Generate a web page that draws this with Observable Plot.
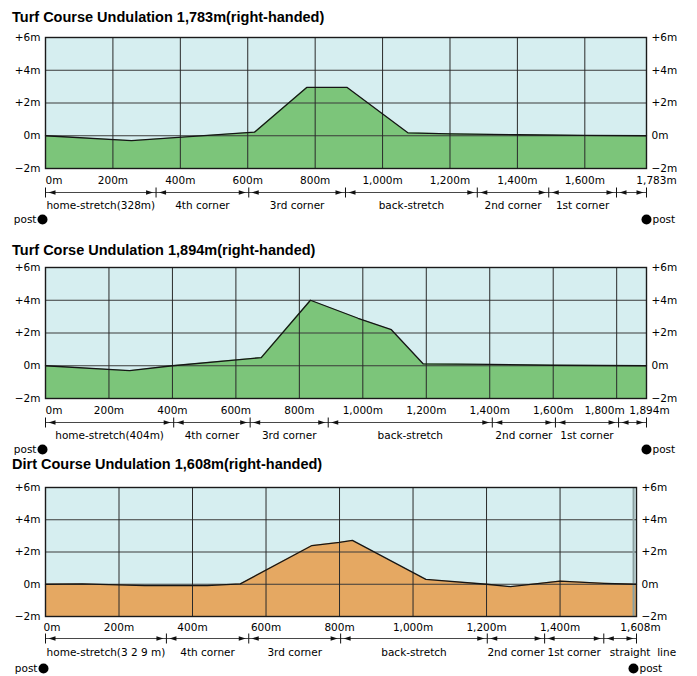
<!DOCTYPE html>
<html><head><meta charset="utf-8">
<script src="https://cdn.jsdelivr.net/npm/d3@7"></script>
<script src="https://cdn.jsdelivr.net/npm/@observablehq/plot@0.6"></script>
<style>
body{margin:0;background:#fff;}
#wrap{position:relative;width:697px;height:676px;font-family:"Liberation Sans",Arial,Helvetica,sans-serif;overflow:hidden;}
.panel{position:absolute;left:0;}
.title{position:absolute;left:12px;font-weight:bold;font-size:14.5px;line-height:18px;color:#000;white-space:nowrap;}
</style></head><body><div id="wrap"></div>
<script>
// ---------- data ----------
const turf1Title = "Turf Course Undulation 1,783m(right-handed)";
const turf1Distance = [0, 255, 620, 775, 895, 1075, 1200, 1400, 1600, 1783];
const turf1Elevation = [0, -0.3, 0.22, 2.95, 2.95, 0.18, 0.12, 0.06, 0.02, 0];
const turf1TickValues = [0, 200, 400, 600, 800, 1000, 1200, 1400, 1600, 1783];
const turf1TickLabels = ["0m", "200m", "400m", "600m", "800m", "1,000m", "1,200m", "1,400m", "1,600m", "1,783m"];
const turf1Grid = [200, 400, 600, 800, 1000, 1200, 1400, 1600];
const turf1Sections = ["home-stretch(328m)", "4th corner", "3rd corner", "back-stretch", "2nd corner", "1st corner", ""];
const turf1Bounds = [0, 328, 603, 890, 1281, 1493, 1694, 1783];

const turf2Title = "Turf Corse Undulation 1,894m(right-handed)";
const turf2Distance = [0, 265, 400, 680, 835, 985, 1090, 1190, 1400, 1600, 1894];
const turf2Elevation = [0, -0.3, 0, 0.5, 4.0, 2.9, 2.2, 0.12, 0.08, 0.03, 0];
const turf2TickValues = [0, 200, 400, 600, 800, 1000, 1200, 1400, 1600, 1800, 1894];
const turf2TickLabels = ["0m", "200m", "400m", "600m", "800m", "1,000m", "1,200m", "1,400m", "1,600m", "1,800m", "1,894m"];
const turf2Grid = [200, 400, 600, 800, 1000, 1200, 1400, 1600, 1800];
const turf2Sections = ["home-stretch(404m)", "4th corner", "3rd corner", "back-stretch", "2nd corner", "1st corner", ""];
const turf2Bounds = [0, 404, 645, 891, 1408, 1607, 1806, 1894];

const dirtTitle = "Dirt Course  Undulation 1,608m(right-handed)";
const dirtDistance = [0, 100, 270, 440, 530, 725, 800, 835, 1035, 1200, 1265, 1400, 1520, 1608];
const dirtElevation = [0, 0.02, -0.08, -0.08, 0.02, 2.4, 2.6, 2.72, 0.3, 0, -0.15, 0.2, 0.06, 0];
const dirtTickValues = [0, 200, 400, 600, 800, 1000, 1200, 1400, 1608];
const dirtTickLabels = ["0m", "200m", "400m", "600m", "800m", "1,000m", "1,200m", "1,400m", "1,608m"];
const dirtGrid = [200, 400, 600, 800, 1000, 1200, 1400];
const dirtGridLight = [1600];
const dirtSections = ["home-stretch(3 2 9 m)", "4th corner", "3rd corner", "back-stretch", "2nd corner", "1st corner", "straight  line"];
const dirtBounds = [0, 329, 553, 803, 1202, 1358, 1519, 1608];

const elevationTicks = [-2, 0, 2, 4, 6];

// ---------- drawing ----------
const FONT = '"DejaVu Sans", Verdana, sans-serif';
const SKY = "#d6eef0";
const fmtY = d => d > 0 ? `+${d}m` : d < 0 ? `\u2212${-d}m` : "0m";
const leftHead = {draw(c) {c.moveTo(0, 0); c.lineTo(7, -2.3); c.lineTo(7, 2.3); c.closePath();}};
const rightHead = {draw(c) {c.moveTo(0, 0); c.lineTo(-7, -2.3); c.lineTo(-7, 2.3); c.closePath();}};
const vTick = {draw(c) {c.moveTo(0, -5); c.lineTo(0, 5);}};

function makePanel(cfg) {
  const profile = cfg.dist.map((d, i) => ({d, e: cfg.elev[i]}));
  const segs = cfg.names.map((name, i) => ({name, start: cfg.bounds[i], end: cfg.bounds[i + 1]}));
  const ticks = cfg.tickValues.map((v, i) => ({v, label: cfg.tickLabels[i]}));
  const first = ticks[0], last = ticks[ticks.length - 1];
  const inner = ticks.slice(1, -1);
  const base = () => -2;
  const o = cfg.off;
  const labelSegs = segs.filter(s => s.name && !(cfg.lastStart && s === segs[segs.length - 1]));
  const marks = [
    Plot.frame({fill: SKY, stroke: null}),
    Plot.areaY(profile, {x: "d", y1: base, y2: "e", fill: cfg.fill}),
    Plot.ruleY(elevationTicks, {stroke: "#3a3a3a", strokeWidth: 1}),
    Plot.ruleX(cfg.grid, {stroke: "#2a2a2a", strokeWidth: 1}),
    Plot.line(profile, {x: "d", y: "e", stroke: "#151515", strokeWidth: 1.3}),
    Plot.frame({stroke: "#1a1a1a", strokeWidth: 1.4}),
    // x labels
    Plot.text([first], {x: "v", y: base, text: "label", textAnchor: "start", dx: o.firstDx, dy: o.tick}),
    Plot.text(inner.filter(t => !cfg.endInner || t !== inner[inner.length - 1]), {x: "v", y: base, text: "label", dy: o.tick}),
    Plot.text([last], {x: "v", y: base, text: "label", dx: o.lastDx, dy: o.tick}),
    // section arrows
    Plot.link(segs, {x1: "start", x2: "end", y1: base, y2: base, dy: o.arrow, stroke: "#333", strokeWidth: 0.9}),
    Plot.dot(segs, {x: "start", y: base, symbol: leftHead, dx: 3, dy: o.arrow, fill: "#111", stroke: "none"}),
    Plot.dot(segs, {x: "end", y: base, symbol: rightHead, dx: -3, dy: o.arrow, fill: "#111", stroke: "none"}),
    Plot.dot(cfg.bounds, {x: d => d, y: base, symbol: vTick, dy: o.arrow, stroke: "#111", strokeWidth: 1, fill: "none"}),
    Plot.text(labelSegs, {x: s => (s.start + s.end) / 2, y: base, text: "name", dy: o.label}),
    // post markers
    Plot.dot([0], {x: d => d, y: base, r: 5, fill: "#000", stroke: "none", dx: o.postLDx, dy: o.post}),
    Plot.text([0], {x: d => d, y: base, text: () => "post", textAnchor: "end", dx: o.postLDx - 6, dy: o.post}),
    Plot.dot([cfg.total], {x: d => d, y: base, r: 5, fill: "#000", stroke: "none", dx: o.postRDx, dy: o.post}),
    Plot.text([cfg.total], {x: d => d, y: base, text: () => "post", textAnchor: "start", dx: o.postRDx + 6, dy: o.post})
  ];
  if (cfg.endInner) {
    marks.push(Plot.text([inner[inner.length - 1]], {x: "v", y: base, text: "label", textAnchor: "end", dx: 8, dy: o.tick}));
  }
  if (cfg.lastStart) {
    const s = segs[segs.length - 1];
    marks.push(Plot.text([s], {x: "start", y: base, text: "name", textAnchor: "start", dx: 6, dy: o.label}));
  }
  if (cfg.lightGrid) {
    marks.splice(4, 0, Plot.ruleX(cfg.lightGrid, {stroke: "#8aa0a0", strokeWidth: 2}));
  }
  return Plot.plot({
    width: 697, height: cfg.height,
    marginLeft: 45, marginRight: cfg.marginRight, marginTop: cfg.marginTop, marginBottom: cfg.height - cfg.marginTop - cfg.plotH,
    style: {fontFamily: FONT, fontSize: "10.5px", color: "#000", background: "transparent", overflow: "visible"},
    x: {domain: [0, cfg.total], axis: null},
    y: {domain: [-2, 6], ticks: elevationTicks, axis: "both", tickSize: 0, tickPadding: 5, tickFormat: fmtY, label: null},
    marks
  });
}

const panels = [
  {top: 0, titleTop: 8, title: turf1Title, height: 228, marginTop: 37, plotH: 131, marginRight: 51, total: 1783,
   dist: turf1Distance, elev: turf1Elevation, tickValues: turf1TickValues, tickLabels: turf1TickLabels,
   grid: turf1Grid, names: turf1Sections, bounds: turf1Bounds, fill: "#7cc57a",
   off: {tick: 12, arrow: 24, label: 37, post: 51, firstDx: 0, lastDx: 10, postLDx: -3, postRDx: 0}},
  {top: 230, titleTop: 241, title: turf2Title, height: 228, marginTop: 37, plotH: 131, marginRight: 51, total: 1894,
   dist: turf2Distance, elev: turf2Elevation, tickValues: turf2TickValues, tickLabels: turf2TickLabels,
   grid: turf2Grid, names: turf2Sections, bounds: turf2Bounds, fill: "#7cc57a", endInner: true,
   off: {tick: 12, arrow: 24, label: 37, post: 51, firstDx: 0, lastDx: 3, postLDx: -3, postRDx: 0}},
  {top: 455, titleTop: 455, title: dirtTitle, height: 221, marginTop: 32, plotH: 129, marginRight: 61, total: 1608,
   dist: dirtDistance, elev: dirtElevation, tickValues: dirtTickValues, tickLabels: dirtTickLabels,
   grid: dirtGrid, lightGrid: dirtGridLight, names: dirtSections, bounds: dirtBounds, fill: "#e5a862", lastStart: true,
   off: {tick: 11, arrow: 22, label: 36, post: 52, firstDx: -2, lastDx: 4, postLDx: -2, postRDx: -3}}
];

const wrap = document.getElementById("wrap");
for (const p of panels) {
  const holder = document.createElement("div");
  holder.className = "panel";
  holder.style.top = p.top + "px";
  holder.appendChild(makePanel(p));
  wrap.appendChild(holder);
}
for (const p of panels) {
  const t = document.createElement("div");
  t.className = "title";
  t.style.top = p.titleTop + "px";
  t.textContent = p.title;
  wrap.appendChild(t);
}
</script>
</body></html>
